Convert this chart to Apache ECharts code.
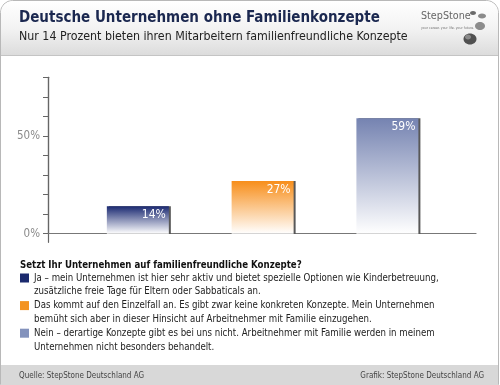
<!DOCTYPE html>
<html><head><meta charset="utf-8">
<script src="https://cdn.jsdelivr.net/npm/echarts@6/dist/echarts.min.js"></script>
<style>html,body{margin:0;padding:0;background:#fff}#c{width:500px;height:385px}</style>
</head><body><div id="c"></div>
<script>
// ---- data ----
const categories = ['Ja', 'Einzelfall', 'Nein'];
const values = [14, 27, 59];
const legendTexts = [
  'Ja – mein Unternehmen ist hier sehr aktiv und bietet spezielle Optionen wie Kinderbetreuung,\nzusätzliche freie Tage für Eltern oder Sabbaticals an.',
  'Das kommt auf den Einzelfall an. Es gibt zwar keine konkreten Konzepte. Mein Unternehmen\nbemüht sich aber in dieser Hinsicht auf Arbeitnehmer mit Familie einzugehen.',
  'Nein – derartige Konzepte gibt es bei uns nicht. Arbeitnehmer mit Familie werden in meinem\nUnternehmen nicht besonders behandelt.'
];
const yLabelValues = [0, 50];
const titleText = 'Deutsche Unternehmen ohne Familienkonzepte';
const subtitleText = 'Nur 14 Prozent bieten ihren Mitarbeitern familienfreundliche Konzepte';
const questionText = 'Setzt Ihr Unternehmen auf familienfreundliche Konzepte?';
const sourceText = 'Quelle: StepStone Deutschland AG';
const creditText = 'Grafik: StepStone Deutschland AG';
const logoText = 'StepStone';
const logoTagline = 'your career. your life. your future.';

// ---- styles ----
const FONT = '"DejaVu Sans Condensed", "DejaVu Sans", sans-serif';
const topColors = ['#1b2a72', '#f78e1a', '#7583b1'];
const legendColors = ['#1b2a6e', '#f39322', '#8392bc'];
const LH = 13.8;

const chart = echarts.init(document.getElementById('c'), null, {renderer: 'canvas'});

const grad = c => new echarts.graphic.LinearGradient(0, 0, 0, 1, [
  {offset: 0, color: c}, {offset: 1, color: '#ffffff'}
]);

const option = {
  animation: false,
  backgroundColor: '#ffffff',
  graphic: [
    {type: 'rect', z: -10, shape: {x: 0.5, y: 0.5, width: 498, height: 384, r: [12, 12, 0, 0]},
      style: {fill: '#ffffff', stroke: '#b8b8b8', lineWidth: 1}},
    {type: 'rect', z: -9, shape: {x: 1, y: 1, width: 497, height: 54, r: [12, 12, 0, 0]},
      style: {fill: new echarts.graphic.LinearGradient(0, 0, 0, 1, [
        {offset: 0, color: '#ffffff'}, {offset: 0.5, color: '#f3f3f3'}, {offset: 1, color: '#dcdcdc'}])}},
    {type: 'line', z: -8, shape: {x1: 1, y1: 55.5, x2: 498, y2: 55.5}, style: {stroke: '#c4c4c4', lineWidth: 1}},
    {type: 'rect', z: -8, shape: {x: 1, y: 365, width: 497, height: 20}, style: {fill: '#d8d8d8'}},
    // logo stones
    {type: 'ellipse', z: -7, shape: {cx: 473, cy: 13, rx: 3, ry: 2}, style: {fill: '#6a6a6a'}},
    {type: 'ellipse', z: -7, shape: {cx: 482, cy: 16, rx: 4, ry: 2.5}, style: {fill: '#8a8a8a'}},
    {type: 'ellipse', z: -7, shape: {cx: 480, cy: 26, rx: 5, ry: 4}, style: {fill: '#8c8c8c'}},
    {type: 'ellipse', z: -7, shape: {cx: 470, cy: 39, rx: 6.5, ry: 5.5}, style: {fill: '#505050'}},
    {type: 'ellipse', z: -6, shape: {cx: 468, cy: 37, rx: 3, ry: 2.5}, style: {fill: '#8a8a8a'}},
    {type: 'text', z: 5, style: {x: 421, y: 26, text: logoTagline, fontSize: 3.5, fill: '#777', fontFamily: FONT}}
  ],
  title: [
    {text: titleText, left: 19, top: 11, padding: 0,
      textStyle: {fontSize: 15, fontWeight: 'bold', color: '#1b2850', fontFamily: FONT}},
    {text: subtitleText, left: 19, top: 31, padding: 0,
      textStyle: {fontSize: 12.3, fontWeight: 'normal', color: '#222', fontFamily: FONT}},
    {text: logoText, left: 421, top: 11, padding: 0,
      textStyle: {fontSize: 10.7, fontWeight: 'normal', color: '#666', fontFamily: FONT}},
    {text: questionText, left: 20, top: 260, padding: 0,
      textStyle: {fontSize: 9.6, fontWeight: 'bold', color: '#111', fontFamily: FONT}},
    {text: sourceText, left: 19, top: 371.5, padding: 0,
      textStyle: {fontSize: 8, fontWeight: 'normal', color: '#444', fontFamily: FONT}},
    {text: creditText, right: 16, top: 371.5, padding: 0,
      textStyle: {fontSize: 8, fontWeight: 'normal', color: '#444', fontFamily: FONT}}
  ],
  legend: {
    left: 20, top: 257.3, orient: 'vertical', padding: 0,
    itemWidth: 9, itemHeight: 9, itemGap: -LH, icon: 'rect', selectedMode: false,
    data: categories.map((n, i) => ({name: n, itemStyle: {color: legendColors[i]}})),
    formatter: n => '\n' + legendTexts[categories.indexOf(n)],
    textStyle: {fontSize: 9.6, lineHeight: LH, color: '#222', fontFamily: FONT}
  },
  grid: [
    {left: 48, right: 24, top: 77.3, bottom: 151.3},
    {left: 48, right: 24, top: 77.3, bottom: 142.7}
  ],
  xAxis: [
    {type: 'value', gridIndex: 0, min: 0.28, max: 3.71,
      axisLine: {show: true, onZero: true, lineStyle: {color: '#777', width: 1.2}},
      axisTick: {show: false}, axisLabel: {show: false}, splitLine: {show: false}},
    {type: 'value', gridIndex: 1, show: false}
  ],
  yAxis: [
    {type: 'value', gridIndex: 0, min: 0, max: 80, interval: 10,
      axisLine: {show: true, lineStyle: {color: '#666', width: 1.2}},
      axisTick: {show: true, length: 5, lineStyle: {color: '#666'}},
      axisLabel: {margin: 8, fontSize: 11.5, color: '#8a8a8a', fontFamily: FONT,
        formatter: v => yLabelValues.includes(v) ? v + '%' : ''},
      splitLine: {show: false}},
    {type: 'value', gridIndex: 1, min: 0, max: 1,
      axisLine: {show: true, lineStyle: {color: '#666', width: 1.2}},
      axisTick: {show: false}, axisLabel: {show: false}, splitLine: {show: false}}
  ],
  series: categories.map((n, i) => ({
    type: 'bar', name: n, xAxisIndex: 0, yAxisIndex: 0,
    barWidth: 62, barGap: '-100%',
    data: [[i + 1, values[i]]],
    itemStyle: {color: grad(topColors[i]), shadowColor: 'rgba(70,70,70,0.9)', shadowOffsetX: 2, shadowOffsetY: 0, shadowBlur: 0},
    label: {show: true, position: 'insideTopRight', distance: 3, color: '#ffffff', fontSize: 12, fontFamily: FONT,
      formatter: p => p.value[1] + '%'}
  }))
};
chart.setOption(option);
</script>
</body></html>
